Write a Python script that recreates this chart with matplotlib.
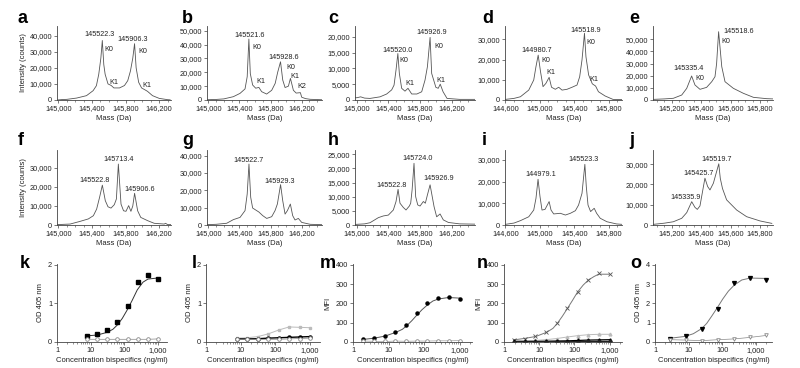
import numpy as np
import matplotlib.pyplot as plt
from matplotlib.ticker import FuncFormatter, FixedLocator, LogLocator, NullFormatter, MultipleLocator

plt.rcParams['font.family'] = ['Liberation Sans', 'DejaVu Sans']
plt.rcParams['font.size'] = 5

# <-- spectra (mass in Da, intensity in counts) -->
a_mass = [144985, 145050, 145100, 145216, 145334, 145413, 145452, 145480, 145505, 145522.3, 145540, 145556,
          145590, 145629, 145660, 145727, 145786, 145825, 145857, 145885, 145906.3, 145925, 145955, 145990,
          146034, 146060, 146120, 146200, 146300, 146330]
a_int = [0, 300, 400, 1200, 2700, 5800, 8900, 16000, 26000, 37000, 22000, 16000,
         10000, 9000, 7500, 7500, 9000, 12000, 18000, 26000, 35000, 20000, 11000, 7500,
         6200, 5400, 2700, 1000, 200, 100]

b_mass = [144983, 145100, 145200, 145322, 145408, 145472, 145500, 145521.6, 145540, 145570, 145610, 145650,
          145686, 145750, 145815, 145860, 145892, 145928.6, 145957, 145987, 146030, 146056, 146094, 146130,
          146184, 146201, 146250, 146310, 146460]
b_int = [200, 400, 800, 2400, 4800, 8000, 16800, 44000, 19000, 10800, 8500, 9100,
         6000, 4300, 7000, 12000, 20000, 27600, 14400, 9000, 10000, 15600, 7000, 5000,
         5300, 2000, 1000, 500, 200]

c_mass = [144979, 145000, 145050, 145100, 145168, 145295, 145379, 145442, 145472, 145497, 145520.0, 145539,
          145568, 145610, 145648, 145695, 145760, 145821, 145863, 145893, 145926.9, 145947, 146000, 146030,
          146055, 146091, 146141, 146300, 146494]
c_int = [800, 700, 1000, 600, 500, 1000, 1900, 3200, 4700, 9500, 14700, 8400,
         3700, 2800, 3700, 1900, 1900, 2600, 6300, 10500, 19800, 8400, 4000, 3700,
         5000, 2600, 500, 200, 200]

d_mass = [144600, 144700, 144774, 144871, 144929, 144955, 144980.7, 145008, 145037, 145070, 145108, 145136,
          145180, 145219, 145258, 145316, 145374, 145432, 145463, 145490, 145518.9, 145536, 145567, 145610,
          145648, 145681, 145758, 145850, 145955]
d_int = [300, 800, 1600, 4900, 9900, 16500, 22200, 14000, 6600, 8200, 11200, 6300,
         5300, 6300, 4900, 5300, 6300, 7400, 11500, 19800, 33000, 21400, 12400, 8000,
         6900, 4100, 2000, 300, 200]

e_mass = [145073, 145150, 145211, 145268, 145302, 145335.4, 145358, 145392, 145437, 145472, 145494, 145505,
          145518.6, 145540, 145562, 145619, 145687, 145755, 145845, 145888]
e_int = [500, 900, 1400, 4100, 9600, 19800, 12400, 8800, 10400, 15100, 19200, 30000,
         56300, 27500, 15100, 9600, 5500, 2200, 1100, 900]

f_mass = [144985, 145139, 145257, 145356, 145416, 145455, 145490, 145522.8, 145558, 145590, 145626, 145665,
          145690, 145713.4, 145745, 145775, 145804, 145836, 145863, 145885, 145906.6, 145943, 145980, 146061,
          146140, 146259, 146275, 146300, 146340]
f_int = [200, 500, 1900, 3200, 4900, 8400, 14600, 21000, 12800, 9600, 8900, 10700,
         13700, 32100, 11000, 7500, 7200, 10200, 7200, 10000, 16700, 7500, 4000, 2300,
         900, 500, 900, 200, 200]

g_mass = [144980, 145100, 145236, 145322, 145408, 145472, 145500, 145522.7, 145545, 145570, 145622, 145650,
          145700, 145751, 145815, 145858, 145888, 145929.3, 145957, 145987, 146017, 146055, 146085, 146115,
          146158, 146201, 146310, 146460]
g_int = [200, 400, 1000, 3100, 4400, 8300, 17900, 35200, 16000, 9800, 8300, 7500,
         5400, 3800, 4800, 8300, 12100, 23300, 14000, 6300, 8300, 12100, 5400, 2900,
         3800, 1500, 400, 200]

h_mass = [144979, 145100, 145168, 145274, 145337, 145400, 145463, 145497, 145522.8, 145547, 145589, 145623,
          145665, 145682, 145700, 145724.0, 145745, 145771, 145800, 145842, 145867, 145893, 145926.9, 145977,
          146010, 146053, 146094, 146158, 146300, 146494]
h_int = [200, 400, 800, 2600, 3200, 3500, 5300, 8300, 12600, 7700, 6200, 5300,
         6700, 7700, 12400, 21800, 10000, 7100, 6700, 8300, 7700, 10600, 14200, 6500,
         2900, 3900, 1800, 900, 400, 300]

i_mass = [144600, 144700, 144774, 144871, 144929, 144955, 144979.1, 145002, 145025, 145060, 145108, 145130,
          145161, 145238, 145297, 145355, 145413, 145450, 145490, 145523.3, 145540, 145560, 145590, 145632,
          145660, 145702, 145780, 145890, 145955]
i_int = [300, 900, 2000, 3800, 6900, 12300, 21100, 13100, 6900, 7200, 10800, 6900,
         5100, 5400, 4600, 5400, 6600, 9200, 14600, 28000, 17700, 9200, 6200, 7700,
         5400, 3100, 1500, 500, 300]

j_mass = [145073, 145150, 145211, 145268, 145302, 145335.9, 145358, 145374, 145392, 145425.7, 145444, 145460,
          145483, 145519.7, 145530, 145545, 145573, 145641, 145709, 145800, 145880]
j_int = [300, 900, 1600, 3300, 6100, 11500, 8700, 7700, 9400, 23100, 19000, 17300,
         20600, 30200, 23000, 18000, 12400, 7400, 4100, 2000, 800]

# peak annotations: (text, mass, intensity, alignment)
a_labels = [("145522.3", 145491, 41000, 'center'), ("K0", 145550, 31700, 'left'), ("K1", 145601, 11000, 'left'),
            ("145906.3", 145884, 37300, 'center'), ("K0", 145955, 30200, 'left'), ("K1", 145994, 9300, 'left')]
b_labels = [("145521.6", 145536, 46900, 'center'), ("K0", 145571, 37700, 'left'), ("K1", 145613, 13200, 'left'),
            ("145928.6", 145965, 31000, 'center'), ("K0", 145999, 23800, 'left'), ("K1", 146051, 16800, 'left'),
            ("K2", 146150, 9600, 'left')]
c_labels = [("145520.0", 145514, 15800, 'center'), ("K0", 145539, 12400, 'left'), ("K1", 145610, 5300, 'left'),
            ("145926.9", 145947, 21400, 'center'), ("K0", 145977, 16800, 'left'), ("K1", 146002, 6300, 'left')]
d_labels = [("144980.7", 144968, 24700, 'center'), ("K0", 145014, 19400, 'left'), ("K1", 145072, 13500, 'left'),
            ("145518.9", 145529, 34300, 'center'), ("K0", 145537, 28500, 'left'), ("K1", 145579, 9900, 'left')]
e_labels = [("145335.4", 145313, 26100, 'center'), ("K0", 145363, 17900, 'left'),
            ("145518.6", 145551, 56300, 'left'), ("K0", 145535, 48100, 'left')]
f_labels = [("145522.8", 145436, 23300, 'center'), ("145713.4", 145713, 34400, 'center'),
            ("145906.6", 145970, 18600, 'center')]
g_labels = [("145522.7", 145515, 37100, 'center'), ("145929.3", 145922, 25200, 'center')]
h_labels = [("145522.8", 145442, 14100, 'center'), ("145724.0", 145766, 23600, 'center'),
            ("145926.9", 146031, 16500, 'center')]
i_labels = [("144979.1", 145006, 23400, 'center'), ("145523.3", 145509, 30000, 'center')]
j_labels = [("145335.9", 145291, 13700, 'center'), ("145425.7", 145381, 25200, 'center'),
            ("145519.7", 145506, 32100, 'center')]

# <-- binding assays -->
conc_8 = [7.8, 15.6, 31.25, 62.5, 125, 250, 500, 1000]
conc_10 = [1.95, 3.9, 7.8, 15.6, 31.25, 62.5, 125, 250, 500, 1000]
conc_o = [2.74, 8.2, 24.7, 74, 222, 667, 2000]

k_pos = [0.15, 0.21, 0.30, 0.53, 0.93, 1.55, 1.74, 1.64]
k_neg = [0.07, 0.07, 0.07, 0.07, 0.07, 0.07, 0.07, 0.08]
k_fit_x = [7.8, 15.6, 31, 46, 62, 87, 122, 172, 243, 360, 506, 1045]
k_fit_y = [0.16, 0.18, 0.25, 0.33, 0.44, 0.61, 0.83, 1.08, 1.35, 1.55, 1.63, 1.66]

l_gray = [0.10, 0.11, 0.14, 0.21, 0.31, 0.39, 0.38, 0.37]
l_black = [0.08, 0.08, 0.085, 0.10, 0.11, 0.12, 0.13, 0.14]
l_open = [0.07, 0.07, 0.07, 0.07, 0.07, 0.08, 0.09, 0.10]

m_pos = [15, 20, 33, 54, 90, 148, 204, 230, 235, 221]
m_neg = [5, 4, 3, 5, 4, 5, 5, 6, 6, 7]
m_fit_x = [2.07, 4.0, 8.1, 16.5, 24.6, 32.7, 45.5, 63, 88, 122, 178, 250, 485, 980]
m_fit_y = [14, 20, 31, 51, 66, 85, 111, 140, 168, 191, 213, 223, 231, 228]

n_cross = [12, 17, 31, 52, 100, 177, 259, 322, 359, 352]
n_gray = [5, 6, 8, 12, 18, 26, 33, 38, 40, 40]
n_tri = [3, 3, 3, 4, 5, 6, 8, 10, 11, 12]
n_sq = [1, 1, 1, 1, 2, 2, 2, 3, 3, 3]
n_fit_x = [2.07, 4.0, 8.1, 16.5, 24.6, 32.7, 45.5, 63, 88, 122, 178, 250, 360, 485, 980]
n_fit_y = [12, 19, 29, 51, 71, 97, 134, 174, 216, 259, 296, 322, 340, 352, 352]

o_pos = [0.17, 0.29, 0.70, 1.72, 3.05, 3.32, 3.22]
o_neg = [0.12, 0.10, 0.07, 0.12, 0.16, 0.24, 0.34]
o_fit_x = [2.66, 7.8, 13.7, 24.4, 34.3, 48, 71, 102, 150, 226, 375, 660, 2060]
o_fit_y = [0.19, 0.29, 0.43, 0.70, 0.97, 1.34, 1.79, 2.23, 2.64, 2.96, 3.22, 3.32, 3.30]

fig = plt.figure(figsize=(8, 3.68), dpi=100)
W, H = 800, 368
TXT = '#222222'


def box(x0, x1, top, bottom):
    return fig.add_axes([x0 / W, 1 - bottom / H, (x1 - x0) / W, (bottom - top) / H])


def style(ax):
    for s in ['top', 'right']:
        ax.spines[s].set_visible(False)
    for s in ['left', 'bottom']:
        ax.spines[s].set_linewidth(0.6)
        ax.spines[s].set_color('#444444')
    ax.tick_params(which='major', length=2, width=0.5, pad=1.5, labelsize=5.3,
                   colors='#444444', labelcolor=TXT)
    ax.tick_params(which='minor', length=1.2, width=0.4, colors='#444444')


comma = FuncFormatter(lambda v, p: f"{v:,.0f}")

cols = [(57, 171), (207, 322), (355, 475), (505, 622), (653, 773)]
std = dict(xlim=(144983, 146340), xt=[145000, 145400, 145800, 146200], mn=100)
std_b = dict(xlim=(144983, 146462), xt=[145000, 145400, 145800, 146200], mn=100)
std_c = dict(xlim=(144979, 146494), xt=[145000, 145400, 145800, 146200], mn=100)
std_d = dict(xlim=(144595, 145955), xt=[144600, 145000, 145400, 145800], mn=100)
std_e = dict(xlim=(145073, 145888), xt=[145200, 145400, 145600, 145800], mn=50)

spectra = [
    ('a', a_mass, a_int, a_labels, std, 46000, 10000, 0, 0, True),
    ('b', b_mass, b_int, b_labels, std_b, 53400, 10000, 0, 1, False),
    ('c', c_mass, c_int, c_labels, std_c, 23400, 5000, 0, 2, False),
    ('d', d_mass, d_int, d_labels, std_d, 36600, 10000, 0, 3, False),
    ('e', e_mass, e_int, e_labels, std_e, 61000, 10000, 0, 4, False),
    ('f', f_mass, f_int, f_labels, std, 39500, 10000, 1, 0, True),
    ('g', g_mass, g_int, g_labels, std_b, 43300, 10000, 1, 1, False),
    ('h', h_mass, h_int, h_labels, std_c, 26500, 5000, 1, 2, False),
    ('i', i_mass, i_int, i_labels, std_d, 34600, 10000, 1, 3, False),
    ('j', j_mass, j_int, j_labels, std_e, 37000, 10000, 1, 4, False),
]
rows = [(26, 100), (150, 225)]
letter_x = [18, 182, 328, 482, 629]

for letter, mass, inten, labels, xs, ytop, ystep, r, c, ylab in spectra:
    top, bottom = rows[r]
    ax = box(cols[c][0], cols[c][1], top, bottom)
    ax.plot(mass, inten, color='#555555', lw=0.6)
    ax.set_xlim(*xs['xlim'])
    ax.set_ylim(0, ytop)
    ax.xaxis.set_major_locator(FixedLocator(xs['xt']))
    ax.xaxis.set_minor_locator(MultipleLocator(xs['mn']))
    ax.yaxis.set_major_locator(FixedLocator(np.arange(0, ytop * 0.97, ystep)))
    ax.xaxis.set_major_formatter(comma)
    ax.yaxis.set_major_formatter(comma)
    style(ax)
    ax.set_xlabel('Mass (Da)', fontsize=5.5, color=TXT, labelpad=2)
    if ylab:
        ax.set_ylabel('Intensity (counts)', fontsize=5.5, color=TXT, labelpad=2)
    for t, x, y, ha in labels:
        ax.text(x, y, t, ha=ha, va='center', fontsize=5.2, color=TXT)
    fig.text(letter_x[c] / W, 1 - (23 if r == 0 else 145) / H, letter,
             fontsize=13, fontweight='bold', va='baseline')

# <-- row 3 -->
cols3 = [(57, 167), (206, 320), (353, 472), (504, 622), (655, 772)]
xmax3 = [1860, 1950, 2240, 2240, 2950]
top3, bot3 = 264, 342
axs = []
for c in range(5):
    ax = box(cols3[c][0], cols3[c][1], top3, bot3)
    ax.set_xscale('log')
    ax.set_xlim(1, xmax3[c])
    ax.xaxis.set_major_locator(FixedLocator([1, 10, 100, 1000]))
    ax.xaxis.set_major_formatter(comma)
    ax.xaxis.set_minor_locator(LogLocator(base=10, subs=np.arange(2, 10)))
    ax.xaxis.set_minor_formatter(NullFormatter())
    style(ax)
    ax.set_xlabel('Concentration bispecifics (ng/ml)', fontsize=5.5, color=TXT, labelpad=2)
    axs.append(ax)

k, l, m, n, o = axs
ms = 2.6

k.plot(k_fit_x, k_fit_y, color='#333333', lw=0.7)
k.plot(conc_8, k_pos, 's', color='black', ms=ms)
k.plot(conc_8, k_neg, 'o', color='#888888', mfc='white', ms=ms, mew=0.6, ls='-', lw=0.5)
k.set_ylim(0, 2.02)
k.set_yticks([0, 1, 2])
k.set_ylabel('OD 405 nm', fontsize=5.5, color=TXT, labelpad=3)

l.plot(conc_8, l_gray, 's-', color='#bbbbbb', ms=1.8, lw=0.7)
l.plot(conc_8, l_black, 'o-', color='black', ms=2.2, lw=1.0)
l.plot(conc_8, l_open, 'o-', color='#888888', mfc='white', ms=ms, mew=0.6, lw=0.5)
l.set_ylim(0, 2.02)
l.set_yticks([0, 1, 2])
l.set_ylabel('OD 405 nm', fontsize=5.5, color=TXT, labelpad=3)

m.plot(m_fit_x, m_fit_y, color='#555555', lw=0.7)
m.plot(conc_10, m_pos, 'o', color='black', ms=2.2)
m.plot(conc_10, m_neg, 'o-', color='#888888', mfc='white', ms=ms, mew=0.6, lw=0.4)
m.set_ylim(0, 405)
m.set_yticks([0, 100, 200, 300, 400])
m.set_ylabel('MFI', fontsize=5.5, color=TXT, labelpad=3)

n.plot(n_fit_x, n_fit_y, color='#777777', lw=0.7)
n.plot(conc_10, n_cross, 'x', color='#555555', ms=3, mew=0.6)
n.plot(conc_10, n_gray, '^-', color='#bbbbbb', ms=2, lw=0.7)
n.plot(conc_10, n_tri, '^-', color='black', ms=2.4, lw=0.9)
n.plot(conc_10, n_sq, 's-', color='#222222', ms=2, lw=0.9)
n.set_ylim(0, 405)
n.set_yticks([0, 100, 200, 300, 400])
n.set_ylabel('MFI', fontsize=5.5, color=TXT, labelpad=3)

o.plot(o_fit_x, o_fit_y, color='#777777', lw=0.7)
o.plot(conc_o, o_pos, 'v', color='black', ms=2.8)
o.plot(conc_o, o_neg, 'v-', color='#888888', mfc='white', ms=ms, mew=0.6, lw=0.5)
o.set_ylim(0, 4.05)
o.set_yticks([0, 1, 2, 3, 4])
o.set_ylabel('OD 405 nm', fontsize=5.5, color=TXT, labelpad=3)

letter_x3 = [20, 192, 320, 477, 630]
for c, letter in enumerate('klmno'):
    fig.text(letter_x3[c] / W, 1 - 268 / H, letter, fontsize=13, fontweight='bold', va='baseline')

fig.savefig('out.png', dpi=100)
